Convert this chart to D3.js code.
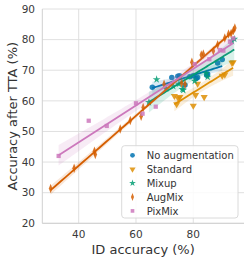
<!DOCTYPE html>
<html>
<head>
<meta charset="utf-8">
<script src="https://cdn.jsdelivr.net/npm/d3@7"></script>
<style>
  html, body { margin: 0; padding: 0; background: #fff; }
  svg { display: block; font-family: "DejaVu Sans", sans-serif; }
</style>
</head>
<body>
<div id="chart"></div>
<script>
// values
const seriesNames = ["No augmentation", "Standard", "Mixup", "AugMix", "PixMix"];
const seriesColors = ["#0173B2", "#DE8F05", "#029E73", "#D55E00", "#CC78BC"];

const noAugX = [65.7, 72.5, 74.6, 75.2, 77.1, 78.8, 80.0, 81.0, 81.5, 84.7, 85.0, 88.5, 90.1];
const noAugY = [64.4, 67.6, 68.0, 68.2, 65.2, 67.9, 68.2, 67.3, 67.6, 68.4, 68.8, 72.4, 73.5];

const standardX = [73.4, 74.2, 74.8, 75.3, 80.0, 80.8, 81.5, 83.8, 90.1, 91.0, 93.5, 93.9];
const standardY = [61.6, 58.9, 60.8, 61.2, 58.4, 61.9, 65.6, 61.2, 68.2, 68.6, 72.4, 72.6];

const mixupX = [64.5, 67.2, 70.5, 73.0, 75.0, 76.2, 76.5, 80.5, 84.5, 85.0, 93.5, 94.3];
const mixupY = [59.5, 67.0, 64.0, 64.8, 65.5, 63.8, 63.5, 66.5, 69.0, 67.8, 79.5, 80.2];

const augmixX = [30.2, 38.4, 45.8, 45.5, 54.5, 58.0, 61.8, 62.5, 69.8, 75.9, 77.1, 79.5, 82.8, 83.5, 87.0, 88.5, 91.0, 92.3, 93.2, 94.0, 94.5];
const augmixY = [31.4, 38.0, 42.5, 43.5, 50.8, 53.6, 55.0, 57.8, 65.4, 65.8, 65.4, 72.6, 75.0, 75.3, 76.3, 78.3, 80.5, 81.8, 82.0, 83.0, 83.8];

const pixmixX = [33.0, 43.5, 49.8, 60.0, 62.3, 66.9, 80.5, 85.6, 89.3, 90.5, 92.8, 94.0];
const pixmixY = [42.0, 53.5, 51.8, 59.2, 55.8, 58.1, 72.0, 73.6, 76.6, 76.4, 79.3, 80.4];

const xTicks = [40, 60, 80];
const yTicks = [20, 30, 40, 50, 60, 70, 80, 90];

(function () {
  const W = 249, H = 262;
  const left = 42.3, right = 244, top = 9, bottom = 223.3;

  const x = d3.scaleLinear().domain([27.3, 97.7]).range([left, right]);
  const y = d3.scaleLinear().domain([20, 90]).range([bottom, top]);

  const svg = d3.select("#chart").append("svg")
    .attr("width", W).attr("height", H);

  // grid
  const grid = svg.append("g").attr("stroke", "#dcdcdc").attr("stroke-width", 0.9);
  grid.selectAll("line.gx").data(xTicks).join("line")
    .attr("x1", d => x(d)).attr("x2", d => x(d))
    .attr("y1", top).attr("y2", bottom);
  grid.selectAll("line.gy").data(yTicks).join("line")
    .attr("x1", left).attr("x2", right)
    .attr("y1", d => y(d)).attr("y2", d => y(d));

  // spines
  svg.append("line").attr("x1", left).attr("x2", left).attr("y1", top).attr("y2", bottom)
    .attr("stroke", "#d0d0d0").attr("stroke-width", 1);
  svg.append("line").attr("x1", left).attr("x2", right).attr("y1", bottom).attr("y2", bottom)
    .attr("stroke", "#d0d0d0").attr("stroke-width", 1);

  // tick labels
  svg.append("g").selectAll("text").data(xTicks).join("text")
    .attr("x", d => x(d)).attr("y", 238)
    .attr("text-anchor", "middle")
    .attr("font-size", "10.5px").attr("fill", "#3a3a3a")
    .text(d => d);
  svg.append("g").selectAll("text").data(yTicks).join("text")
    .attr("x", 35).attr("y", d => y(d) + 3.8)
    .attr("text-anchor", "end")
    .attr("font-size", "10.5px").attr("fill", "#3a3a3a")
    .text(d => d);

  // axis labels
  svg.append("text")
    .attr("x", (left + right) / 2).attr("y", 254)
    .attr("text-anchor", "middle")
    .attr("font-size", "13px").attr("fill", "#333")
    .text("ID accuracy (%)");
  svg.append("text")
    .attr("transform", `translate(16.5,${(top + bottom) / 2}) rotate(-90)`)
    .attr("text-anchor", "middle")
    .attr("font-size", "13px").attr("fill", "#333")
    .text("Accuracy after TTA (%)");

  const sym = [
    { type: d3.symbolCircle, size: 24, tf: "" },
    { type: d3.symbolTriangle, size: 22, tf: " rotate(180)" },
    { type: d3.symbolStar, size: 19, tf: "" },
    { type: d3.symbolDiamond, size: 26, tf: " scale(0.65,1)" },
    { type: d3.symbolSquare, size: 18, tf: "" }
  ];

  const series = [
    [noAugX, noAugY], [standardX, standardY], [mixupX, mixupY],
    [augmixX, augmixY], [pixmixX, pixmixY]
  ];

  const plot = svg.append("g");

  series.forEach(([xs, ys], i) => {
    const color = seriesColors[i];
    const pts = xs.map((v, k) => ({ x: v, y: ys[k] }));

    // ordinary least squares fit with 95% band
    const n = pts.length;
    const mx = d3.mean(xs), my = d3.mean(ys);
    const sxx = d3.sum(xs, v => (v - mx) * (v - mx));
    const sxy = d3.sum(pts, p => (p.x - mx) * (p.y - my));
    const b = sxy / sxx, a = my - b * mx;
    const s = Math.sqrt(d3.sum(pts, p => Math.pow(p.y - (a + b * p.x), 2)) / (n - 2));
    const t = 2.1;
    const [x0, x1] = d3.extent(xs);
    const steps = d3.range(0, 51).map(k => x0 + (x1 - x0) * k / 50);
    const band = steps.map(v => {
      const se = s * Math.sqrt(1 / n + (v - mx) * (v - mx) / sxx);
      const f = a + b * v;
      return { x: v, lo: f - t * se, hi: f + t * se, f };
    });

    plot.append("g").selectAll("path").data(pts).join("path")
      .attr("d", d3.symbol().type(sym[i].type).size(sym[i].size))
      .attr("transform", d => `translate(${x(d.x)},${y(d.y)})${sym[i].tf}`)
      .attr("fill", color).attr("fill-opacity", 0.85);

    plot.append("path").datum(band)
      .attr("d", d3.area().x(d => x(d.x)).y0(d => y(d.lo)).y1(d => y(d.hi)))
      .attr("fill", color).attr("fill-opacity", 0.15);

    plot.append("path").datum(band)
      .attr("d", d3.line().x(d => x(d.x)).y(d => y(d.f)))
      .attr("fill", "none").attr("stroke", color).attr("stroke-width", 1.8);
  });

  // legend
  const lg = svg.append("g");
  lg.append("rect")
    .attr("x", 121.7).attr("y", 145.7).attr("width", 116.3).attr("height", 72.3)
    .attr("rx", 3).attr("fill", "#fff").attr("fill-opacity", 0.85)
    .attr("stroke", "#d6d6d6").attr("stroke-width", 0.9);
  seriesNames.forEach((name, i) => {
    const cy = 155.3 + i * 13.9;
    lg.append("path")
      .attr("d", d3.symbol().type(sym[i].type).size(sym[i].size * 0.75)())
      .attr("transform", `translate(132.5,${cy})${sym[i].tf}`)
      .attr("fill", seriesColors[i]).attr("fill-opacity", 0.85);
    lg.append("text")
      .attr("x", 146.7).attr("y", cy + 3.6)
      .attr("font-size", "10px").attr("fill", "#333")
      .text(name);
  });
})();
</script>
</body>
</html>
